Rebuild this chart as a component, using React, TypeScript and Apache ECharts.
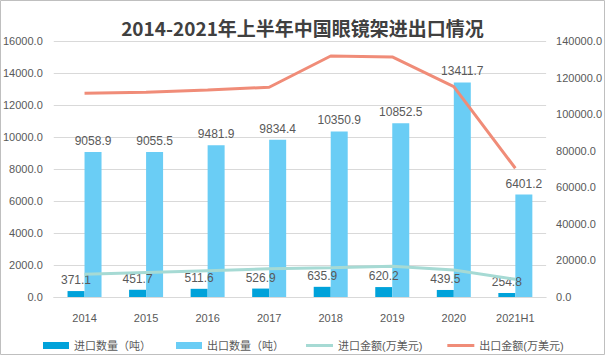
import React, { useEffect, useRef } from "react";
import * as echarts from "echarts";

const categories = ["2014", "2015", "2016", "2017", "2018", "2019", "2020", "2021H1"];
const importQty = [371.1, 451.7, 511.6, 526.9, 635.9, 620.2, 439.5, 254.8];
const exportQty = [9058.9, 9055.5, 9481.9, 9834.4, 10350.9, 10852.5, 13411.7, 6401.2];
const importAmt = [12400, 13400, 14400, 15400, 16000, 16800, 14800, 9700];
const exportAmt = [111400, 112000, 113200, 114700, 131800, 131300, 115000, 70400];

const seriesNames = ["进口数量（吨）", "出口数量（吨）", "进口金额(万美元)", "出口金额(万美元)"];

export default function App() {
  const ref = useRef<HTMLDivElement>(null);
  useEffect(() => {
    document.body.style.margin = "0";
    const chart = echarts.init(ref.current!, undefined, { renderer: "svg" });
    const font = "'Liberation Sans', 'Noto Sans CJK SC', sans-serif";
    const labelStyle = {
      show: true,
      position: "top" as const,
      distance: 5,
      color: "#595959",
      fontSize: 12,
      fontFamily: font,
      formatter: (p: any) => Number(p.value).toFixed(1),
    };
    const legendText = { fontSize: 11, color: "#595959", fontFamily: font };
    chart.setOption({
      animation: false,
      backgroundColor: "#ffffff",
      textStyle: { fontFamily: font },
      title: {
        text: "2014-2021年上半年中国眼镜架进出口情况",
        left: "center",
        top: 13,
        textStyle: {
          fontSize: 19,
          fontWeight: "bold",
          color: "#404040",
          fontFamily: "'Noto Sans CJK SC', sans-serif",
        },
      },
      graphic: [
        {
          type: "rect",
          shape: { x: 0.5, y: 0.5, width: 604, height: 354 },
          style: { fill: "none", stroke: "#bfbfbf", lineWidth: 1 },
          silent: true,
        },
      ],
      legend: [
        {
          data: [seriesNames[0], seriesNames[1]],
          top: 335,
          left: 38,
          itemWidth: 26,
          itemHeight: 7,
          itemGap: 25,
          icon: "rect",
          textStyle: legendText,
        },
        {
          data: [seriesNames[2], seriesNames[3]],
          top: 335,
          left: 301,
          itemWidth: 27,
          itemHeight: 3,
          itemGap: 25,
          icon: "rect",
          textStyle: legendText,
        },
      ],
      grid: { left: 52, right: 58, top: 41, bottom: 58 },
      xAxis: {
        type: "category",
        data: categories,
        axisLine: { show: true, lineStyle: { color: "#d9d9d9", width: 1 } },
        axisTick: { show: false },
        axisLabel: { color: "#595959", fontSize: 11, margin: 15 },
      },
      yAxis: [
        {
          type: "value",
          min: 0,
          max: 16000,
          interval: 2000,
          axisLine: { show: false },
          axisTick: { show: false },
          splitLine: { lineStyle: { color: "#d9d9d9", width: 1 } },
          axisLabel: {
            color: "#595959",
            fontSize: 11,
            margin: 11,
            formatter: (v: number) => v.toFixed(1),
          },
        },
        {
          type: "value",
          min: 0,
          max: 140000,
          interval: 20000,
          axisLine: { show: false },
          axisTick: { show: false },
          splitLine: { show: false },
          axisLabel: {
            color: "#595959",
            fontSize: 11,
            margin: 10,
            formatter: (v: number) => v.toFixed(1),
          },
        },
      ],
      series: [
        {
          name: seriesNames[0],
          type: "bar",
          data: importQty,
          barWidth: 17,
          barGap: "0%",
          itemStyle: { color: "#00A2DA" },
          label: labelStyle,
        },
        {
          name: seriesNames[1],
          type: "bar",
          data: exportQty,
          barWidth: 17,
          barGap: "0%",
          itemStyle: { color: "#6ACDF5" },
          label: labelStyle,
        },
        {
          name: seriesNames[2],
          type: "line",
          yAxisIndex: 1,
          data: importAmt,
          symbol: "none",
          lineStyle: { color: "#A6DAD4", width: 3 },
          itemStyle: { color: "#A6DAD4" },
          z: 3,
        },
        {
          name: seriesNames[3],
          type: "line",
          yAxisIndex: 1,
          data: exportAmt,
          symbol: "none",
          lineStyle: { color: "#F08C78", width: 3 },
          itemStyle: { color: "#F08C78" },
          z: 3,
        },
      ],
    });
    return () => chart.dispose();
  }, []);
  return (
    <div
      ref={ref}
      style={{ width: 605, height: 355, position: "absolute", left: 0, top: 0 }}
    />
  );
}
